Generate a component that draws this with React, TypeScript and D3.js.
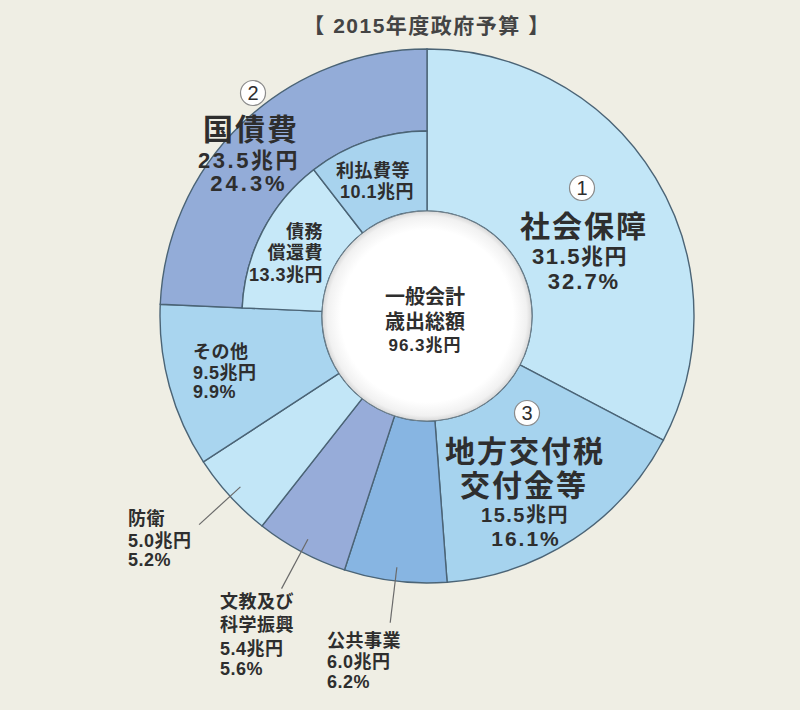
import React from "react";
import * as d3 from "d3";

const title = "【 2015年度政府予算 】";
const categories = ["社会保障", "地方交付税交付金等", "公共事業", "文教及び科学振興", "防衛", "その他", "国債費"];
const amounts = [31.5, 15.5, 6.0, 5.4, 5.0, 9.5, 23.5];
const shares = [32.7, 16.1, 6.2, 5.6, 5.2, 9.9, 24.3];
const colors = ["#c2e6f7", "#a6d3ee", "#87b5e2", "#97acd9", "#c2e6f7", "#a9d5ef", "#93acd8"];
const subCategories = ["債務償還費", "利払費等"];
const subAmounts = [13.3, 10.1];
const subColors = ["#c6e8f8", "#a8d3ee"];
const totalLabel = ["一般会計", "歳出総額"];
const totalAmount = 96.3;

const W = 800, H = 710;
const cx = 427, cy = 316;
const R = 267, Rmid = 185, Rin = 105;
const FONT = "'Liberation Sans', 'Noto Sans CJK JP', sans-serif";
const TXT = "#2e2e2e";
const STROKE = "#4b6476";

export default function App() {
  const pie = d3.pie<number>().sort(null).value((d) => d);
  const slices = pie(shares);
  const debt = slices[6];
  const subSlices = d3.pie<number>().sort(null).value((d) => d)
    .startAngle(debt.startAngle).endAngle(debt.endAngle)(subAmounts);

  const arcFull = d3.arc<any>().innerRadius(Rin).outerRadius(R);
  const arcOuterDebt = d3.arc<any>().innerRadius(Rmid).outerRadius(R);
  const arcSub = d3.arc<any>().innerRadius(Rin).outerRadius(Rmid);
  const pt = (a: number, r: number) => [Math.sin(a) * r, -Math.cos(a) * r];

  const fmt = (v: number) => v.toFixed(1) + "兆円";
  const pct = (v: number) => v.toFixed(1) + "%";

  const circled = (x: number, y: number, n: string) => (
    <g transform={`translate(${x},${y})`}>
      <circle r={12.5} fill="#fff" stroke="#8a8a8a" strokeWidth={1.2} />
      <text y={7} textAnchor="middle" fontSize={20} fill={TXT}>{n}</text>
    </g>
  );

  const leaderIdx = [2, 3, 4];
  const mid = (s: any) => (s.startAngle + s.endAngle) / 2;

  return (
    <svg width={W} height={H} style={{ position: "absolute", left: 0, top: 0, background: "#efeee4" }} fontFamily={FONT}>
      <defs>
        <radialGradient id="hole" cx="50%" cy="50%" r="50%">
          <stop offset="0.82" stopColor="#ffffff" />
          <stop offset="0.95" stopColor="#f1f1f1" />
          <stop offset="1" stopColor="#d8d8d8" />
        </radialGradient>
      </defs>
      <rect width={W} height={H} fill="#efeee4" />
      <text x={cx} y={33} textAnchor="middle" fontSize={21} fontWeight="bold" fill="#444" letterSpacing={1.5}>{title}</text>
      <g transform={`translate(${cx},${cy})`}>
        {slices.map((s, i) =>
          i === 6 ? (
            <path key={i} d={arcOuterDebt(s) as string} fill={colors[i]} stroke={STROKE} strokeWidth={1.4} />
          ) : (
            <path key={i} d={arcFull(s) as string} fill={colors[i]} stroke={STROKE} strokeWidth={1.4} />
          )
        )}
        {subSlices.map((s, i) => (
          <path key={"s" + i} d={arcSub(s) as string} fill={subColors[i]} stroke={STROKE} strokeWidth={1.4} />
        ))}
        <circle r={Rin} fill="url(#hole)" stroke="#6d7f8a" strokeWidth={1} />
        {leaderIdx.map((i) => {
          const a = mid(slices[i]);
          const [x1, y1] = pt(a, 253);
          const [x2, y2] = pt(a, 309);
          return <line key={"l" + i} x1={x1} y1={y1} x2={x2} y2={y2} stroke="#6a6a6a" strokeWidth={1.2} />;
        })}
      </g>

      {/* center */}
      <g fill={TXT} fontWeight="bold" textAnchor="middle">
        <text x={425} y={304} fontSize={20}>{totalLabel[0]}</text>
        <text x={425} y={329} fontSize={20}>{totalLabel[1]}</text>
        <text x={425} y={351} fontSize={17} letterSpacing={1}>{fmt(totalAmount)}</text>
      </g>

      {/* 社会保障 */}
      {circled(582, 188, "1")}
      <g fill={TXT} fontWeight="bold" textAnchor="middle">
        <text x={584} y={237} fontSize={30} letterSpacing={2}>{categories[0]}</text>
        <text x={580} y={264} fontSize={22} letterSpacing={1.5}>{fmt(amounts[0])}</text>
        <text x={584} y={289} fontSize={22} letterSpacing={2}>{pct(shares[0])}</text>
      </g>

      {/* 国債費 */}
      {circled(253, 93, "2")}
      <g fill={TXT} fontWeight="bold" textAnchor="middle">
        <text x={251} y={140} fontSize={30} letterSpacing={2}>{categories[6]}</text>
        <text x={249} y={168} fontSize={22} letterSpacing={2.5}>{fmt(amounts[6])}</text>
        <text x={249} y={191} fontSize={22} letterSpacing={3}>{pct(shares[6])}</text>
      </g>

      {/* 地方交付税 */}
      {circled(527, 413, "3")}
      <g fill={TXT} fontWeight="bold" textAnchor="middle">
        <text x={525} y={462} fontSize={30} letterSpacing={2}>{categories[1].slice(0, 5)}</text>
        <text x={524} y={496} fontSize={30} letterSpacing={2}>{categories[1].slice(5)}</text>
        <text x={525} y={522} fontSize={20} letterSpacing={1.5}>{fmt(amounts[1])}</text>
        <text x={526} y={546} fontSize={21} letterSpacing={2}>{pct(shares[1])}</text>
      </g>

      {/* sub slices */}
      <g fill={TXT} fontWeight="bold" fontSize={18} letterSpacing={0.5}>
        <text x={373} y={177} textAnchor="middle">{subCategories[1]}</text>
        <text x={377} y={198} textAnchor="middle">{fmt(subAmounts[1])}</text>
        <text x={323} y={238} textAnchor="end">{subCategories[0].slice(0, 2)}</text>
        <text x={323} y={259} textAnchor="end">{subCategories[0].slice(2)}</text>
        <text x={323} y={281} textAnchor="end">{fmt(subAmounts[0])}</text>
      </g>

      {/* その他 */}
      <g fill={TXT} fontWeight="bold" fontSize={18} letterSpacing={0.5}>
        <text x={193} y={358}>{categories[5]}</text>
        <text x={193} y={379}>{fmt(amounts[5])}</text>
        <text x={193} y={398}>{pct(shares[5])}</text>
      </g>

      {/* 防衛 */}
      <g fill={TXT} fontWeight="bold" fontSize={18} letterSpacing={0.5}>
        <text x={128} y={525}>{categories[4]}</text>
        <text x={128} y={547}>{fmt(amounts[4])}</text>
        <text x={128} y={566}>{pct(shares[4])}</text>
      </g>

      {/* 文教 */}
      <g fill={TXT} fontWeight="bold" fontSize={18} letterSpacing={0.5}>
        <text x={220} y={608}>{categories[3].slice(0, 4)}</text>
        <text x={220} y={631}>{categories[3].slice(4)}</text>
        <text x={220} y={655}>{fmt(amounts[3])}</text>
        <text x={220} y={675}>{pct(shares[3])}</text>
      </g>

      {/* 公共事業 */}
      <g fill={TXT} fontWeight="bold" fontSize={18} letterSpacing={0.5}>
        <text x={327} y={647}>{categories[2]}</text>
        <text x={327} y={668}>{fmt(amounts[2])}</text>
        <text x={327} y={688}>{pct(shares[2])}</text>
      </g>
    </svg>
  );
}
